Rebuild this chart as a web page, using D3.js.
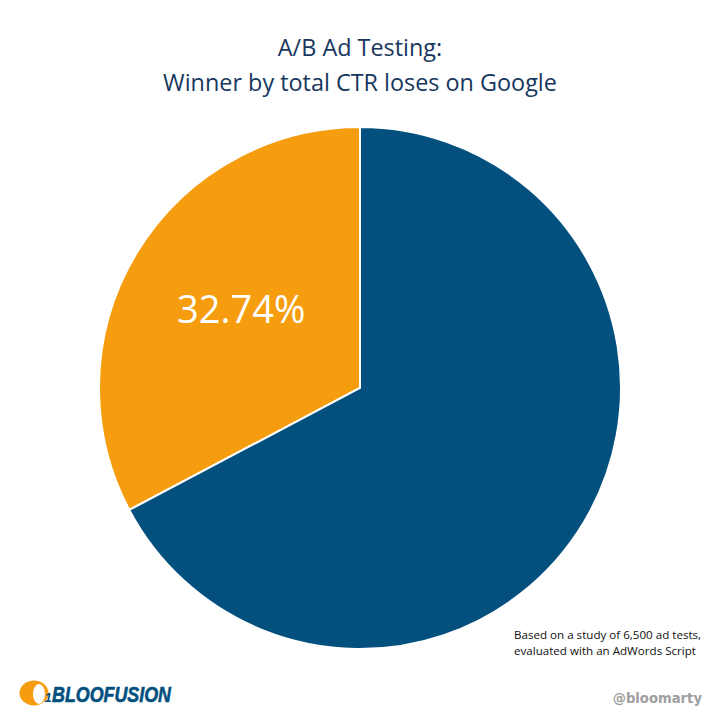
<!DOCTYPE html>
<html>
<head>
<meta charset="utf-8">
<script src="https://cdn.jsdelivr.net/npm/d3@7"></script>
<style>
  html, body { margin: 0; padding: 0; background: #fff; }
  svg { display: block; }
  text { font-family: "Open Sans", "Noto Sans", sans-serif; }
</style>
</head>
<body>
<svg id="chart" width="720" height="720"></svg>
<script>
var categories = ["Winner by total CTR loses", "Winner by total CTR wins"];
var values = [32.74, 67.26];
var colors = ["#f59d0e", "#03507e"];
var titleLines = ["A/B Ad Testing:", "Winner by total CTR loses on Google"];
var noteLines = ["Based on a study of 6,500 ad tests,", "evaluated with an AdWords Script"];

var svg = d3.select("#chart");

// title
svg.selectAll(".title")
  .data(titleLines)
  .enter().append("text")
  .attr("class", "title")
  .attr("x", 360)
  .attr("y", function(d, i) { return 56 + i * 35; })
  .attr("text-anchor", "middle")
  .style("font-size", "23.4px")
  .style("fill", "#17375e")
  .text(function(d) { return d; });

// the small slice runs counter-clockwise from 12 o'clock
var pie = d3.pie().sort(null)
  .startAngle(0)
  .endAngle(-2 * Math.PI);

var arc = d3.arc().innerRadius(0).outerRadius(261);

var g = svg.append("g").attr("transform", "translate(360,388)");

g.selectAll("path")
  .data(pie(values))
  .enter().append("path")
  .attr("d", arc)
  .style("fill", function(d, i) { return colors[i]; })
  .style("stroke", "#fff")
  .style("stroke-width", 2);

var labelArc = d3.arc().innerRadius(162).outerRadius(162);
var first = pie(values)[0];

g.append("text")
  .attr("transform", "translate(" + labelArc.centroid(first) + ")")
  .attr("x", 20)
  .attr("y", 8)
  .attr("text-anchor", "middle")
  .attr("dominant-baseline", "middle")
  .style("font-size", "38px")
  .style("fill", "#fff")
  .text(d3.format(".2f")(values[0]) + "%");

// footnote
svg.selectAll(".note")
  .data(noteLines)
  .enter().append("text")
  .attr("class", "note")
  .attr("x", 514)
  .attr("y", function(d, i) { return 639 + i * 16; })
  .style("font-size", "11.6px")
  .style("fill", "#111")
  .text(function(d) { return d; });

svg.append("text")
  .attr("x", 702)
  .attr("y", 703)
  .attr("text-anchor", "end")
  .style("font-family", "'DejaVu Sans', sans-serif")
  .style("font-size", "13.2px")
  .style("font-weight", "bold")
  .style("fill", "#a0a0a0")
  .text("@bloomarty");

// logo
var logo = svg.append("g");
logo.append("ellipse")
  .attr("cx", 34).attr("cy", 693)
  .attr("rx", 14.5).attr("ry", 12.5)
  .style("fill", "#f59d0e");
logo.append("ellipse")
  .attr("cx", 39).attr("cy", 694)
  .attr("rx", 6).attr("ry", 10)
  .style("fill", "#fff");
logo.append("text")
  .attr("x", 44.5)
  .attr("y", 702)
  .style("font-family", "'Liberation Sans', sans-serif")
  .style("font-size", "13px")
  .style("font-weight", "bold")
  .style("font-style", "italic")
  .style("fill", "#03507e")
  .text("1");
logo.append("text")
  .attr("x", 52)
  .attr("y", 702)
  .attr("textLength", 119)
  .attr("lengthAdjust", "spacingAndGlyphs")
  .style("font-family", "'Liberation Sans', sans-serif")
  .style("font-size", "22px")
  .style("font-weight", "bold")
  .style("font-style", "italic")
  .style("fill", "#03507e")
  .style("stroke", "#03507e")
  .style("stroke-width", 0.6)
  .text("BLOOFUSION");
</script>
</body>
</html>
